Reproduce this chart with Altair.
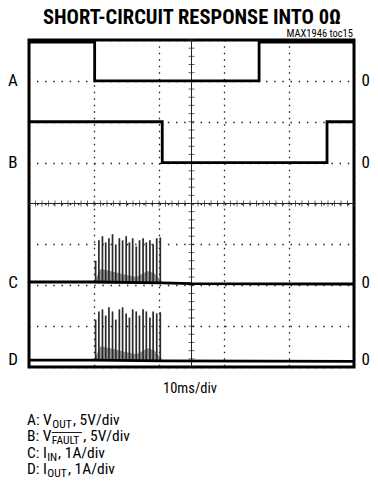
import altair as alt
import pandas as pd

# ---------------- data (x in ms, y in divisions from bottom, 8 div tall) ----
A_t = [0, 20.2, 20.2, 70.8, 70.8, 100]
A_v = [7.95, 7.95, 7.0, 7.0, 7.95, 7.95]
B_t = [0, 41.0, 41.0, 91.7, 91.7, 100]
B_v = [6.0, 6.0, 5.0, 5.0, 6.0, 6.0]
C_t = [0, 20.3, 41.0, 50.0, 100]
C_v = [2.08, 2.08, 2.06, 2.04, 2.03]
D_t = [0, 20.3, 41.0, 100]
D_v = [0.17, 0.17, 0.15, 0.14]

C_base = 2.05
D_base = 0.16
spike_t = [20.5, 21.5, 22.6, 23.6, 24.6, 25.7, 26.7, 27.8, 28.8, 29.9,
           30.9, 31.9, 33.0, 34.0, 35.1, 36.1, 37.2, 38.2, 39.3, 40.4]
C_peak = [0.55, 1.05, 1.15, 1.0, 1.1, 1.2, 0.95, 1.1, 1.05, 1.15,
          1.0, 1.1, 0.9, 1.05, 1.1, 1.0, 1.05, 0.95, 1.1, 1.12]
D_peak = [1.0, 1.2, 1.25, 1.1, 1.3, 1.2, 1.0, 1.25, 1.3, 1.15,
          1.05, 1.25, 1.2, 1.1, 1.25, 1.2, 1.05, 1.2, 1.15, 1.18]
hump_t = [20.2, 22.0, 25.0, 29.0, 33.0, 36.5, 38.5, 40.8]
hump_h = [0.05, 0.35, 0.3, 0.22, 0.15, 0.3, 0.25, 0.05]

channel_labels = ["A", "B", "C", "D"]
channel_zero = [7.0, 5.0, 2.05, 0.16]

title_text = "SHORT-CIRCUIT RESPONSE INTO 0\u03a9"
code_text = "MAX1946 toc15"
xlabel = "10ms/div"
legend_lines = [
    ("A: V", "OUT", ", 5V/div"),
    ("B: V", "FAULT", ", 5V/div"),
    ("C: I", "IN", ", 1A/div"),
    ("D: I", "OUT", ", 1A/div"),
]

FONT = "Roboto Condensed, Roboto, Liberation Sans, sans-serif"

W, H = 325, 327
X = alt.Scale(domain=[0, 100], nice=False, zero=False)
Y = alt.Scale(domain=[0, 8], nice=False, zero=False)

# approximate Roboto Condensed advance widths (em) for placing sub-scripts
EM = {"A": .652, ":": .237, " ": .248, "V": .637, "O": .688, "U": .648, "T": .61,
      ",": .197, "5": .562, "/": .412, "d": .56, "i": .243, "v": .484, "B": .622,
      "F": .553, "L": .538, "C": .652, "I": .272, "N": .713, "D": .656, "1": .562}


def tw(s, size):
    return sum(EM.get(ch, .55) for ch in s) * size * 0.89


# ---------------- tables ----------------
rows = []
for ch, ts, vs in [("A", A_t, A_v), ("B", B_t, B_v), ("C", C_t, C_v), ("D", D_t, D_v)]:
    for i, (t, v) in enumerate(zip(ts, vs)):
        rows.append({"ch": ch, "i": i, "t": t, "v": v})
traces = pd.DataFrame(rows)

spk = []
for t, c, d in zip(spike_t, C_peak, D_peak):
    spk.append({"t": t, "y": C_base, "y2": C_base + c})
    spk.append({"t": t, "y": D_base, "y2": D_base + d})
spikes = pd.DataFrame(spk)

hmp = []
for t, h in zip(hump_t, hump_h):
    hmp.append({"ch": "C", "t": t, "y": C_base, "y2": C_base + h})
    hmp.append({"ch": "D", "t": t, "y": D_base, "y2": D_base + h})
humps = pd.DataFrame(hmp)

grid_df = pd.DataFrame({"t": [0]})
minor_y = pd.DataFrame({"y": [i * 0.2 for i in range(41)]})
minor_x = pd.DataFrame({"t": [i * 2 for i in range(51)]})

labels_df = pd.DataFrame({"lab": channel_labels, "v": channel_zero})

# ---------------- layers ----------------
base_grid = alt.Chart(grid_df).mark_point(opacity=0).encode(
    x=alt.X("t:Q", scale=X, axis=alt.Axis(values=list(range(0, 101, 10)), labels=False,
            ticks=False, domain=False, title=None, grid=True, gridColor="black",
            gridDash=[1.4, 5.1], gridDashOffset=0.7, gridWidth=1.3, gridOpacity=0.9)),
    y=alt.Y("t:Q", scale=Y, axis=alt.Axis(values=list(range(0, 9)), labels=False,
            ticks=False, domain=False, title=None, grid=True, gridColor="black",
            gridDash=[1.4, 6.78], gridDashOffset=0.7, gridWidth=1.3, gridOpacity=0.9)),
)

center_v = alt.Chart(grid_df).mark_rule(color="#222", strokeWidth=1).encode(
    x=alt.datum(50, scale=X), y=alt.value(0), y2=alt.value(H))
center_h = alt.Chart(grid_df).mark_rule(color="#222", strokeWidth=1).encode(
    y=alt.datum(4, scale=Y), x=alt.value(0), x2=alt.value(W))

ticks_v = alt.Chart(minor_y).mark_tick(orient="horizontal", color="#222", thickness=1, size=6).encode(
    x=alt.datum(50, scale=X), y=alt.Y("y:Q", scale=Y))
ticks_h = alt.Chart(minor_x).mark_tick(orient="vertical", color="#222", thickness=1, size=6).encode(
    y=alt.datum(4, scale=Y), x=alt.X("t:Q", scale=X))

hump_layer = alt.Chart(humps).mark_area(color="#8a8a8a", opacity=0.9).encode(
    x=alt.X("t:Q", scale=X), y=alt.Y("y:Q", scale=Y), y2="y2:Q", detail="ch:N")

spike_layer = alt.Chart(spikes).mark_rule(color="#2a2a2a", strokeWidth=1.7).encode(
    x=alt.X("t:Q", scale=X), y=alt.Y("y:Q", scale=Y), y2="y2:Q")

trace_layer = alt.Chart(traces).mark_line(color="black", strokeWidth=2.8).encode(
    x=alt.X("t:Q", scale=X), y=alt.Y("v:Q", scale=Y), detail="ch:N", order="i:Q")

left_labels = alt.Chart(labels_df).mark_text(font=FONT, fontSize=17, align="center",
                                              baseline="middle", color="black").encode(
    x=alt.value(-16), y=alt.Y("v:Q", scale=Y), text="lab:N")
right_labels = alt.Chart(labels_df).mark_text(font=FONT, fontSize=17, align="right",
                                               baseline="middle", color="black").encode(
    x=alt.value(341), y=alt.Y("v:Q", scale=Y), text=alt.value("0"))


def txt(s, x, y, size=13, weight="normal", align="left", baseline="alphabetic"):
    return alt.Chart(grid_df).mark_text(font=FONT, fontSize=size, fontWeight=weight,
                                        align=align, baseline=baseline, color="black").encode(
        x=alt.value(x), y=alt.value(y), text=alt.value(s))


ox, oy = 29, 40  # page offset of plot origin
texts = [
    txt(title_text, 192 - ox, 24 - oy, size=20.5, weight="bold", align="center"),
    txt(code_text, 353 - ox, 36.5 - oy, size=10.5, align="right"),
    txt(xlabel, 190 - ox, 393 - oy, size=14.5, align="center"),
]

MS, SS = 15.5, 11.5
leg_y = [425, 441, 458, 474]
overlays = []
for yb, (a, sub, rest) in zip(leg_y, legend_lines):
    x0 = 27
    x1 = x0 + tw(a, MS) + 0.8
    x2 = x1 + tw(sub, SS) + 0.8
    texts.append(txt(a, x0 - ox, yb - oy, size=MS))
    texts.append(txt(sub, x1 - ox, yb + 3 - oy, size=SS))
    texts.append(txt(rest, x2 - ox, yb - oy, size=MS))
    if sub == "FAULT":
        overlays.append(alt.Chart(grid_df).mark_rule(color="black", strokeWidth=0.9).encode(
            x=alt.value(x1 - ox), x2=alt.value(x2 - 1.5 - ox), y=alt.value(yb - 8.5 - oy)))

chart = alt.layer(
    base_grid, center_v, center_h, ticks_v, ticks_h,
    hump_layer, spike_layer, trace_layer,
    left_labels, right_labels, *overlays, *texts
).properties(
    width=W, height=H,
    autosize=alt.AutoSizeParams(type="none"),
    padding={"left": 21, "top": 32, "right": 16, "bottom": 118},
).configure(background="white").configure_view(stroke="black", strokeWidth=3)

chart.save("out.html", embed_options={"renderer": "svg", "actions": False})
